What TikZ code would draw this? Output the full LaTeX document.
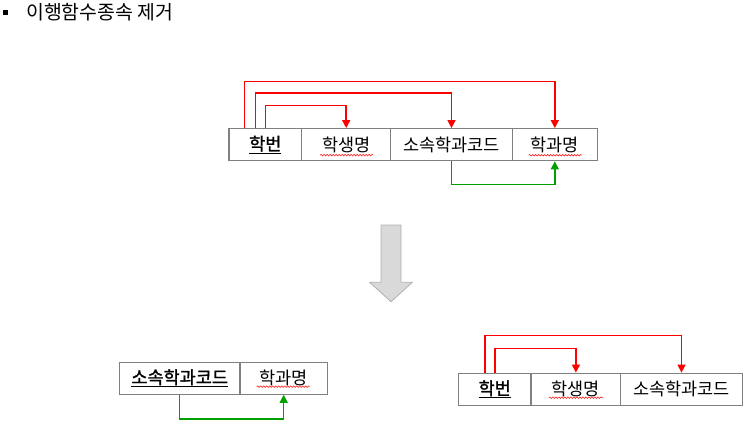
\documentclass[tikz,border=0pt]{standalone}
\usepackage{fontspec}
\setmainfont{Noto Sans CJK KR}
\newfontfamily\keyfont[FakeBold=1.5]{Noto Sans CJK KR}
\usetikzlibrary{arrows.meta,decorations.pathmorphing}
\definecolor{boxgray}{RGB}{128,128,128}
\definecolor{lnred}{RGB}{255,0,0}
\definecolor{lngreen}{RGB}{0,160,0}
\definecolor{arrfill}{RGB}{217,217,217}
\definecolor{arrdraw}{RGB}{175,175,175}
\begin{document}
\begin{tikzpicture}[x=1pt,y=-1pt,
  cell/.style={draw=boxgray,line width=1.2pt,minimum height=32pt,inner sep=0pt,
    font=\fontsize{17.5}{17.5}\selectfont},
  keytext/.style={font=\fontsize{17.5}{17.5}\keyfont},
  redarr/.style={draw=lnred,line width=1.5pt,-{Triangle[width=8pt,length=8pt,fill=lnred]}},
  greenarr/.style={draw=lngreen,line width=1.5pt,-{Triangle[width=8pt,length=8pt,fill=lngreen]}},
  squig/.style={color=lnred,line width=0.5pt,decorate,
    decoration={snake,amplitude=0.8pt,segment length=3pt}},
  bigarrow/.style={draw=arrdraw,fill=arrfill,line width=0.8pt}]
\useasboundingbox (0,0) rectangle (751,428);

% title
\fill[black] (3.3,10) rectangle (8.3,15);
\node[anchor=west,inner sep=0pt,font=\fontsize{19.4}{19.4}\selectfont] (title) at (26,12.5) {이행함수종속 제거};

% top table
\node[cell,minimum width=72.7pt,keytext] (c1) at (265.3,144.7) {\underline{학번}};
\node[cell,minimum width=89pt] (c2) at (346.2,144.7) {학생명};
\node[cell,minimum width=121.6pt] (c3) at (451.5,144.7) {소속학과코드};
\node[cell,minimum width=85pt] (c4) at (554.8,144.7) {학과명};
\draw[squig] ([xshift=-26pt,yshift=-10.5pt]c2.center) -- ([xshift=27pt,yshift=-10.5pt]c2.center);
\draw[squig] ([xshift=-26pt,yshift=-10.5pt]c4.center) -- ([xshift=27pt,yshift=-10.5pt]c4.center);

\draw[redarr] ([xshift=-21pt]c1.north) -- ++(0,-46.6) -| (c4.north);
\draw[redarr] ([xshift=-9.6pt]c1.north) -- ++(0,-35) -| (c3.north);
\draw[redarr] ([xshift=0.4pt]c1.north) -- ++(0,-22.6) -| (c2.north);
\draw[greenarr] (c3.south) -- ++(0,23.3) -| (c4.south);

% big down arrow
\draw[bigarrow] (381,225) -- (401,225) -- (401,282.3) -- (412.3,282.3) -- (391,301.7)
  -- (369.7,282.3) -- (381,282.3) -- cycle;

% bottom-left table
\node[cell,minimum width=120.7pt,keytext] (d1) at (179.7,378.2) {\underline{소속학과코드}};
\node[cell,minimum width=87.3pt] (d2) at (283.7,378.2) {학과명};
\draw[squig] ([xshift=-27pt,yshift=-8.5pt]d2.center) -- ([xshift=26pt,yshift=-8.5pt]d2.center);
\draw[greenarr] (d1.south) -- ++(0,24.3) -| (d2.south);

% bottom-right table
\node[cell,minimum width=72.7pt,keytext] (e1) at (494.7,389.2) {\underline{학번}};
\node[cell,minimum width=89.7pt] (e2) at (575.9,389.2) {학생명};
\node[cell,minimum width=121.6pt] (e3) at (681.5,389.2) {소속학과코드};
\draw[squig] ([xshift=-27pt,yshift=-8.5pt]e2.center) -- ([xshift=27pt,yshift=-8.5pt]e2.center);
\draw[redarr] ([xshift=-9.7pt]e1.north) -- ++(0,-37.3) -| (e3.north);
\draw[redarr] ([xshift=0.3pt]e1.north) -- ++(0,-24) -| (e2.north);
\end{tikzpicture}
\end{document}
